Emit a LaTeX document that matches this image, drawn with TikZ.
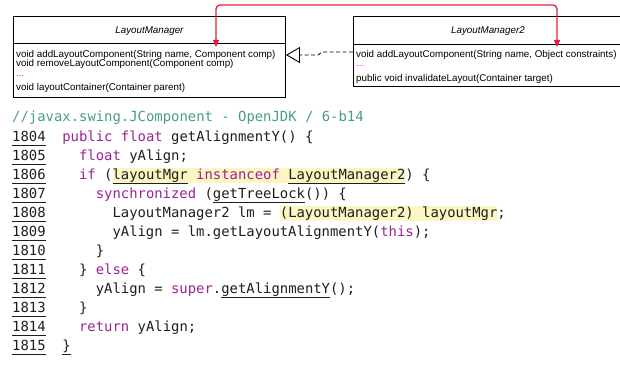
\documentclass[tikz,border=0pt]{standalone}
\usepackage{fontspec}
\setmainfont{Liberation Sans}
\setmonofont{DejaVu Sans Mono}
\usetikzlibrary{arrows.meta}

\definecolor{kwcol}{HTML}{9B2393}
\definecolor{cmtcol}{HTML}{4A9E7E}
\definecolor{hlcol}{HTML}{FCF6C2}
\definecolor{linkred}{HTML}{E0203A}
\definecolor{dotpink}{HTML}{FF00FF}
\definecolor{codeink}{HTML}{1E1E1E}

\newsavebox\ulbox
\newsavebox\hlbox
\newcommand\kw[1]{\textcolor{kwcol}{#1}}
\newcommand\codeul[1]{\sbox\ulbox{#1}\rlap{\rule[-3.8pt]{\wd\ulbox}{0.8pt}}\usebox\ulbox}
\newcommand\codehl[1]{\sbox\hlbox{#1}\rlap{\textcolor{hlcol}{\rule[-3.5pt]{\wd\hlbox}{15.5pt}}}\usebox\hlbox}
\def\cw{8.36}

\begin{document}
\begin{tikzpicture}[x=1pt,y=-1pt,
  umlbox/.style={draw=black, line width=0.9pt, inner sep=0pt, anchor=north west},
  title/.style={inner sep=0pt, font=\fontsize{9.8}{11}\selectfont\itshape},
  member/.style={anchor=base west, inner sep=0pt, font=\fontsize{9.8}{11}\selectfont},
  code/.style={anchor=base west, inner sep=0pt, text=codeink, font=\fontsize{13.9}{16}\selectfont\ttfamily},
  lineno/.style={code},
  realize/.style={draw=black, line width=0.9pt, dash pattern=on 4pt off 2.5pt,
    -{Triangle[open,length=14pt,width=16pt]}},
  link/.style={draw=linkred, line width=1.3pt, rounded corners=4pt,
    {Triangle[length=7pt,width=6pt]}-{Triangle[length=7pt,width=6pt]}}
]
\useasboundingbox (0,0) rectangle (620,366);

% class boxes
\node[umlbox, minimum width=272pt, minimum height=81pt] (lm) at (13,16) {};
\node[umlbox, minimum width=269pt, minimum height=70pt] (lm2) at (353,16) {};
\draw[black, line width=0.9pt] ([yshift=-27pt]lm.north west) -- ([yshift=-27pt]lm.north east);
\draw[black, line width=0.9pt] ([yshift=-28pt]lm2.north west) -- ([yshift=-28pt]lm2.north east);
\node[title] (lmname) at ([yshift=-15pt]lm.north) {LayoutManager};
\node[title] (lm2name) at ([yshift=-15pt]lm2.north) {LayoutManager2};

\node[member] (lmadd) at (16,57.3) {void addLayoutComponent(String name, Component comp)};
\node[member] (lmremove) at (16,66.8) {void removeLayoutComponent(Component comp)};
\node[member, text=dotpink] (lmdots) at (16,77) {...};
\node[member] (lmlayout) at (16,91) {void layoutContainer(Container parent)};

\node[member] (lm2add) at (356,57.3) {void addLayoutComponent(String name, Object constraints)};
\node[member, text=dotpink] (lm2dots) at (356,66.7) {...};
\node[member] (lm2inval) at (356,82) {public void invalidateLayout(Container target)};

% realization
\draw[realize] (lm2.west |- 0,52) -- (322,52) -- (318,55) -- (lm.east |- 0,55);

% red link between the two addLayoutComponent
\coordinate (lmhook) at (216,47);
\coordinate (lm2hook) at (557,47);
\draw[link] (lmhook) |- (557,5) -- (lm2hook);

% source
\node[code, text=cmtcol] (cmt) at (12,122) {//javax.swing.JComponent - OpenJDK / 6-b14};
\foreach \i in {0,...,11} {
  \pgfmathtruncatemacro\num{1804+\i}
  \node[lineno] (n\num) at (12,{141.7+19*\i}) {\codeul{\num}};
}
\node[code] (c1804) at ([xshift={6*\cw}]n1804.base west) {\kw{public float} getAlignmentY() \{};
\node[code] (c1805) at ([xshift={8*\cw}]n1805.base west) {\kw{float} yAlign;};
\node[code] (c1806) at ([xshift={8*\cw}]n1806.base west) {\kw{if} (\codehl{\codeul{layoutMgr} \kw{instanceof} \codeul{LayoutManager2}}) \{};
\node[code] (c1807) at ([xshift={10*\cw}]n1807.base west) {\kw{synchronized} (\codeul{getTreeLock}()) \{};
\node[code] (c1808) at ([xshift={12*\cw}]n1808.base west) {LayoutManager2 lm = \codehl{(LayoutManager2) layoutMgr};};
\node[code] (c1809) at ([xshift={12*\cw}]n1809.base west) {yAlign = lm.getLayoutAlignmentY(\kw{this});};
\node[code] (c1810) at ([xshift={10*\cw}]n1810.base west) {\}};
\node[code] (c1811) at ([xshift={8*\cw}]n1811.base west) {\} \kw{else} \{};
\node[code] (c1812) at ([xshift={10*\cw}]n1812.base west) {yAlign = \kw{super}.\codeul{getAlignmentY}();};
\node[code] (c1813) at ([xshift={8*\cw}]n1813.base west) {\}};
\node[code] (c1814) at ([xshift={8*\cw}]n1814.base west) {\kw{return} yAlign;};
\node[code] (c1815) at ([xshift={6*\cw}]n1815.base west) {\codeul{\}}};
\end{tikzpicture}
\end{document}
